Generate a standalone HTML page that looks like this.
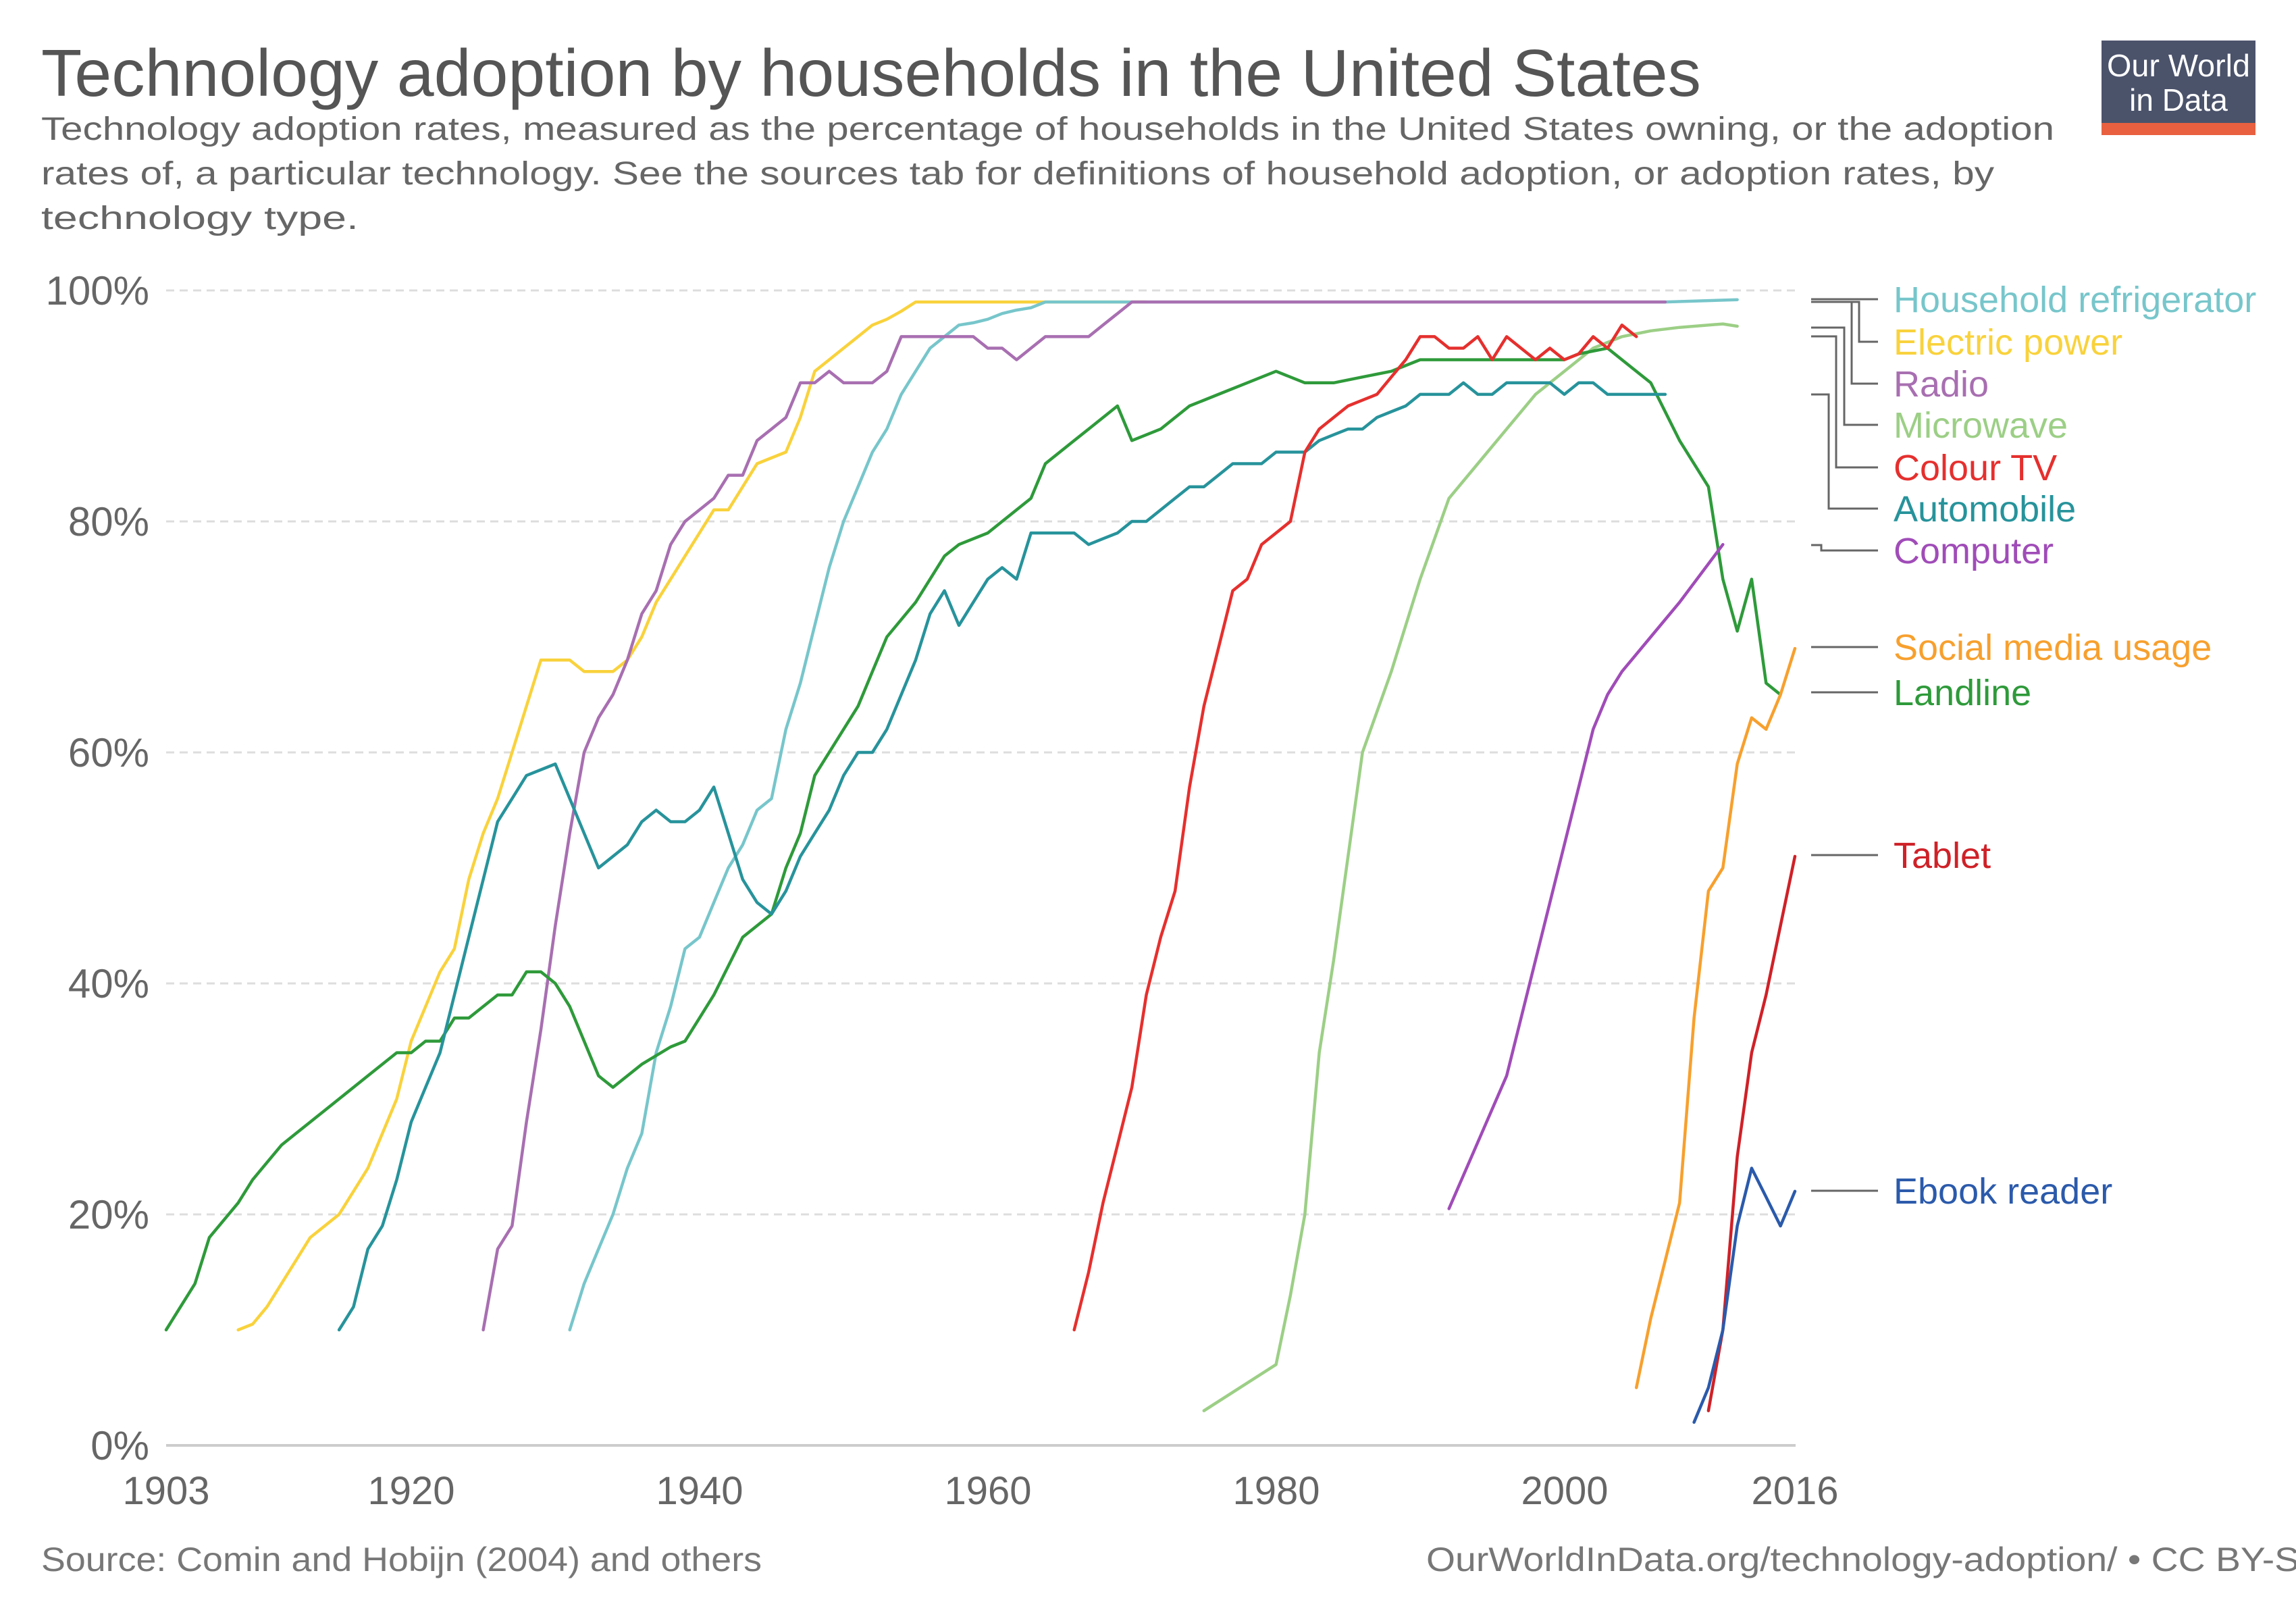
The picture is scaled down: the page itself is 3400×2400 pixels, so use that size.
<!DOCTYPE html>
<html><head><meta charset="utf-8"><style>
html,body{margin:0;padding:0;background:#fff;}
svg{display:block;font-family:"Liberation Sans",sans-serif;}
</style></head><body>
<svg id="c" width="3400" height="2400" viewBox="0 0 3400 2400" xmlns="http://www.w3.org/2000/svg">
<rect width="3400" height="2400" fill="#fff"/>
<text x="61" y="142" font-size="98" fill="#555" textLength="2458" lengthAdjust="spacingAndGlyphs">Technology adoption by households in the United States</text>
<text x="61" y="207" font-size="48" fill="#666" textLength="2981" lengthAdjust="spacingAndGlyphs">Technology adoption rates, measured as the percentage of households in the United States owning, or the adoption</text>
<text x="61" y="273" font-size="48" fill="#666" textLength="2892" lengthAdjust="spacingAndGlyphs">rates of, a particular technology. See the sources tab for definitions of household adoption, or adoption rates, by</text>
<text x="61" y="339" font-size="48" fill="#666" textLength="470" lengthAdjust="spacingAndGlyphs">technology type.</text>
<rect x="3112" y="60" width="228" height="122" fill="#4b536b"/>
<rect x="3112" y="182" width="228" height="18" fill="#e8603f"/>
<text x="3226" y="113" font-size="46" fill="#fff" text-anchor="middle" textLength="212" lengthAdjust="spacingAndGlyphs">Our World</text>
<text x="3226" y="164" font-size="46" fill="#fff" text-anchor="middle">in Data</text>
<g id="grid"></g>
<g id="lines" fill="none" stroke-width="4.5" stroke-linejoin="round" stroke-linecap="round"></g>
<g stroke="#666" stroke-width="3" fill="none">
<path d="M2682 443H2781"/>
<path d="M2682 447H2753V506H2781"/>
<path d="M2682 447H2742V568H2781"/>
<path d="M2682 485H2731V629H2781"/>
<path d="M2682 498H2719V692H2781"/>
<path d="M2682 584H2708V753H2781"/>
<path d="M2682 807H2697V815H2781"/>
<path d="M2682 958H2781"/>
<path d="M2682 1025H2781"/>
<path d="M2682 1266H2781"/>
<path d="M2682 1763H2781"/>
</g>
<g font-size="54">
<text x="2804" y="462" fill="#77c6cb">Household refrigerator</text>
<text x="2804" y="525" fill="#f9d23c">Electric power</text>
<text x="2804" y="587" fill="#a86fb1">Radio</text>
<text x="2804" y="648" fill="#9ccf86">Microwave</text>
<text x="2804" y="711" fill="#e5302e">Colour TV</text>
<text x="2804" y="772" fill="#27939b">Automobile</text>
<text x="2804" y="834" fill="#a04cb8">Computer</text>
<text x="2804" y="977" fill="#f7a02e">Social media usage</text>
<text x="2804" y="1044" fill="#2e9a3a">Landline</text>
<text x="2804" y="1285" fill="#cf2128">Tablet</text>
<text x="2804" y="1782" fill="#2b5aab">Ebook reader</text>
</g>
<g font-size="60" fill="#666" text-anchor="end">
<text x="221" y="451">100%</text>
<text x="221" y="793">80%</text>
<text x="221" y="1135">60%</text>
<text x="221" y="1477">40%</text>
<text x="221" y="1819">20%</text>
<text x="221" y="2161">0%</text>
</g>
<g font-size="58" fill="#666" text-anchor="middle">
<text x="246" y="2227">1903</text>
<text x="609" y="2227">1920</text>
<text x="1036" y="2227">1940</text>
<text x="1463" y="2227">1960</text>
<text x="1890" y="2227">1980</text>
<text x="2317" y="2227">2000</text>
<text x="2658" y="2227">2016</text>
</g>
<text x="61" y="2326" font-size="50" fill="#777" textLength="1067" lengthAdjust="spacingAndGlyphs">Source: Comin and Hobijn (2004) and others</text>
<text x="2112" y="2326" font-size="50" fill="#777" textLength="1330" lengthAdjust="spacingAndGlyphs">OurWorldInData.org/technology-adoption/ • CC BY-SA</text>
</svg>
<script>
(function(){
var NS="http://www.w3.org/2000/svg";
function X(y){return 246+(y-1903)*21.345;}
function Y(p){return 2140-p*17.1;}
var g=document.getElementById("grid");
[20,40,60,80,100].forEach(function(p){var l=document.createElementNS(NS,"line");l.setAttribute("x1",246);l.setAttribute("x2",2659);l.setAttribute("y1",Y(p));l.setAttribute("y2",Y(p));l.setAttribute("stroke","#ddd");l.setAttribute("stroke-width","3");l.setAttribute("stroke-dasharray","12,8");g.appendChild(l);});
var a=document.createElementNS(NS,"line");a.setAttribute("x1",246);a.setAttribute("x2",2659);a.setAttribute("y1",2140);a.setAttribute("y2",2140);a.setAttribute("stroke","#ccc");a.setAttribute("stroke-width","4");g.appendChild(a);
var S=[
["#f9d23c",[1908,10,1909,10.5,1910,12,1911,14,1912,16,1913,18,1914,19,1915,20,1916,22,1917,24,1918,27,1919,30,1920,35,1921,38,1922,41,1923,43,1924,49,1925,53,1926,56,1927,60,1928,64,1929,68,1930,68,1931,68,1932,67,1933,67,1934,67,1935,68,1936,70,1937,73,1938,75,1939,77,1940,79,1941,81,1942,81,1943,83,1944,85,1945,85.5,1946,86,1947,89,1948,93,1949,94,1950,95,1951,96,1952,97,1953,97.5,1954,98.2,1955,99,1971,99]],
["#77c6cb",[1931,10,1932,14,1933,17,1934,20,1935,24,1936,27,1937,34,1938,38,1939,43,1940,44,1941,47,1942,50,1943,52,1944,55,1945,56,1946,62,1947,66,1948,71,1949,76,1950,80,1951,83,1952,86,1953,88,1954,91,1955,93,1956,95,1957,96,1958,97,1959,97.2,1960,97.5,1961,98,1962,98.3,1963,98.5,1964,99,2007,99,2012,99.2]],
["#a86fb1",[1925,10,1926,17,1927,19,1928,28,1929,36,1930,45,1931,53,1932,60,1933,63,1934,65,1935,68,1936,72,1937,74,1938,78,1939,80,1940,81,1941,82,1942,84,1943,84,1944,87,1945,88,1946,89,1947,92,1948,92,1949,93,1950,92,1951,92,1952,92,1953,93,1954,96,1959,96,1960,95,1961,95,1962,94,1963,95,1964,96,1967,96,1968,97,1969,98,1970,99,2007,99]],
["#9ccf86",[1975,3,1980,7,1981,13,1982,20,1983,34,1984,42,1986,60,1988,67,1990,75,1992,82,1994,85,1996,88,1998,91,2000,93,2002,95,2004,96,2006,96.5,2008,96.8,2011,97.1,2012,96.9]],
["#2e9a3a",[1903,10,1905,14,1906,18,1908,21,1909,23,1911,26,1912,27,1913,28,1914,29,1916,31,1917,32,1919,34,1920,34,1921,35,1922,35,1923,37,1924,37,1926,39,1927,39,1928,41,1929,41,1930,40,1931,38,1932,35,1933,32,1934,31,1936,33,1938,34.5,1939,35,1940,37,1941,39,1943,44,1945,46,1946,50,1947,53,1948,58,1950,62,1951,64,1952,67,1953,70,1955,73,1957,77,1958,78,1960,79,1961,80,1963,82,1964,85,1966,87,1967,88,1969,90,1970,87,1972,88,1974,90,1976,91,1978,92,1980,93,1982,92,1984,92,1986,92.5,1988,93,1989,93.5,1990,94,2000,94,2001,94.5,2003,95,2004,94,2006,92,2008,87,2010,83,2011,75,2012,70.5,2013,75,2014,66,2015,65]],
["#27939b",[1915,10,1916,12,1917,17,1918,19,1919,23,1920,28,1921,31,1922,34,1923,39,1924,44,1925,49,1926,54,1927,56,1928,58,1929,58.5,1930,59,1931,56,1932,53,1933,50,1934,51,1935,52,1936,54,1937,55,1938,54,1939,54,1940,55,1941,57,1942,53,1943,49,1944,47,1945,46,1946,48,1947,51,1948,53,1949,55,1950,58,1951,60,1952,60,1953,62,1954,65,1955,68,1956,72,1957,74,1958,71,1959,73,1960,75,1961,76,1962,75,1963,79,1966,79,1967,78,1968,78.5,1969,79,1970,80,1971,80,1972,81,1973,82,1974,83,1975,83,1976,84,1977,85,1979,85,1980,86,1982,86,1983,87,1984,87.5,1985,88,1986,88,1987,89,1988,89.5,1989,90,1990,91,1992,91,1993,92,1994,91,1995,91,1996,92,1999,92,2000,91,2001,92,2002,92,2003,91,2007,91]],
["#e5302e",[1966,10,1967,15,1968,21,1969,26,1970,31,1971,39,1972,44,1973,48,1974,57,1975,64,1976,69,1977,74,1978,75,1979,78,1980,79,1981,80,1982,86,1983,88,1984,89,1985,90,1986,90.5,1987,91,1988,92.5,1989,94,1990,96,1991,96,1992,95,1993,95,1994,96,1995,94,1996,96,1997,95,1998,94,1999,95,2000,94,2001,94.5,2002,96,2003,95,2004,97,2005,96]],
["#a04cb8",[1992,20.5,1996,32,1998,42,2000,52,2002,62,2003,65,2004,67,2006,70,2008,73,2011,78]],
["#f7a02e",[2005,5,2006,11,2007,16,2008,21,2009,37,2010,48,2011,50,2012,59,2013,63,2014,62,2015,65,2016,69]],
["#cf2128",[2010,3,2011,10,2012,25,2013,34,2014,39,2015,45,2016,51]],
["#2b5aab",[2009,2,2010,5,2011,10,2012,19,2013,24,2014,21.5,2015,19,2016,22]]
];
var L=document.getElementById("lines");
S.forEach(function(s){var d=s[1],pts=[];for(var i=0;i<d.length;i+=2)pts.push(X(d[i]).toFixed(1)+","+Y(d[i+1]).toFixed(1));var p=document.createElementNS(NS,"polyline");p.setAttribute("points",pts.join(" "));p.setAttribute("stroke",s[0]);L.appendChild(p);});
})();
</script>
</body></html>
